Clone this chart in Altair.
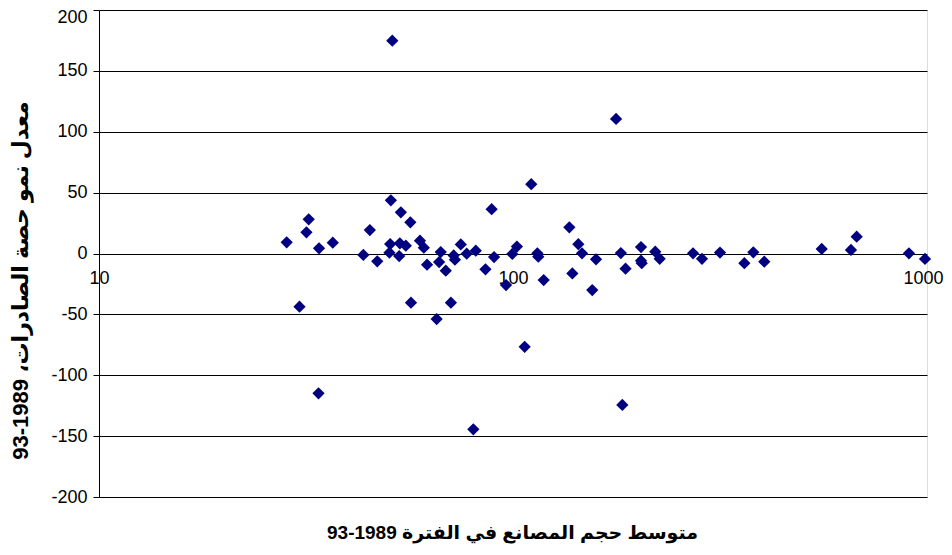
import altair as alt
import pandas as pd

# average plant size 1989-93 (log scale)
plant_size = [28.4, 30.5, 31.7, 32.1, 34.0, 33.9, 36.7, 43.5, 45.1, 47.0,
              50.7, 51.1, 50.5, 50.3, 53.3, 53.1, 53.6, 55.1, 56.5, 56.7,
              59.6, 60.9, 62.0, 65.4, 66.9, 66.3, 68.8, 70.8, 71.9, 72.4,
              74.8, 77.3, 80.2, 81.3, 85.8, 88.8, 90.0, 96.2, 99.6, 102.2,
              106.7, 110.7, 114.5, 115.1, 118.6, 136.8, 139.1, 143.8, 146.8, 155.4,
              158.7, 177.4, 182.2, 183.7, 187.0, 203.8, 203.8, 204.6, 220.6, 226.1,
              272.2, 286.1, 316.2, 362.1, 380.6, 404.6, 556.8, 655.1, 676.3, 904.5,
              989.0]
# growth rate of export share 1989-93
growth = [9.2, -43.7, 17.4, 28.1, 4.3, -114.8, 8.9, -1.2, 19.3, -6.4,
          43.7, 174.8, 7.8, 0.7, 8.4, -2.1, 33.8, 6.4, 25.6, -40.4,
          10.5, 4.8, -9.2, -53.8, 1.2, -7.0, -14.1, -40.4, -1.6, -5.1,
          7.4, -0.2, -144.4, 2.3, -13.0, 36.4, -2.9, -25.9, -0.4, 5.7,
          -76.6, 56.9, 0.2, -2.6, -21.8, 21.5, -16.4, 7.6, 0.2, -30.0,
          -4.8, 110.5, 0.4, -124.4, -12.5, 5.3, -5.9, -8.0, 1.5, -4.4,
          0.2, -4.4, 0.8, -8.0, 1.0, -6.7, 3.7, 2.9, 13.8, 0.2,
          -4.5]

x_ticks = [10, 100, 1000]
y_ticks = [-200, -150, -100, -50, 0, 50, 100, 150, 200]

x_title = "93-1989 " + "متوسط حجم المصانع في الفترة"
y_title = "93-1989 " + "معدل نمو حصة الصادرات،" + "\u200f"

df = pd.DataFrame({"size": plant_size, "growth": growth})

W, H = 828, 487
FONT = "Liberation Sans, Arial, DejaVu Sans"

chart = alt.Chart(df).mark_point(
    shape="diamond", filled=True, size=150, color="#000080", opacity=1
).encode(
    x=alt.X("size:Q",
            scale=alt.Scale(type="log", domain=[10, 1000], nice=False),
            axis=alt.Axis(values=x_ticks, labelExpr="'' + datum.value",
                          grid=False, ticks=False,
                          domain=False, offset=-(H / 2), labelPadding=16,
                          labelFontSize=18, labelFont=FONT, labelColor="#000",
                          labelOffset={"condition": {"test": "datum.value == 1000", "value": -4},
                                       "value": 0},
                          labelFlush=False, labelOverlap=False, labelBound=False,
                          title=x_title, titleFont=FONT, titleFontSize=19,
                          titleFontWeight="bold", titleColor="#000",
                          titleX=413, titleY=278.5, titleAlign="center",
                          titleBaseline="middle")),
    y=alt.Y("growth:Q",
            scale=alt.Scale(domain=[-200, 200], nice=False, zero=False),
            axis=alt.Axis(values=y_ticks, labelExpr="'' + datum.value",
                          grid=True, gridColor="#000",
                          gridWidth=1, gridOpacity=1,
                          domain=True, domainColor="#000", domainWidth=1,
                          ticks=True, tickSize=6, tickColor="#000",
                          labelPadding=6, labelFontSize=18, labelFont=FONT,
                          labelColor="#000", labelOverlap=False,
                          labelOffset={"condition": {"test": "datum.value == 200", "value": 7},
                                       "value": 0},
                          title=y_title, titleFont=FONT, titleFontSize=22,
                          titleFontWeight="bold", titleColor="#000",
                          titleAngle=270, titleX=-79, titleY=270,
                          titleAlign="center", titleBaseline="middle")),
).properties(
    width=W, height=H,
    autosize=alt.AutoSizeParams(type="none"),
    padding={"left": 91, "top": 2, "right": 17, "bottom": 48},
).configure_view(stroke=None).configure(background="white")

chart.save("out.html", embed_options={"renderer": "svg", "actions": False})
